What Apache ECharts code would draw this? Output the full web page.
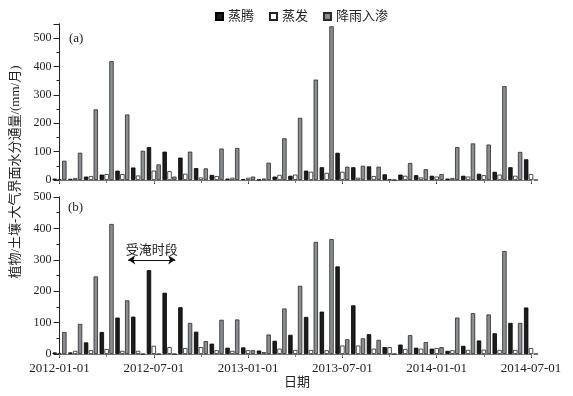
<!DOCTYPE html>
<html>
<head>
<meta charset="utf-8">
<script src="https://cdn.jsdelivr.net/npm/echarts@6/dist/echarts.min.js"></script>
<style>html,body{margin:0;padding:0;background:#fff}#c{width:573px;height:396px}</style>
</head>
<body>
<div id="c"></div>
<script>
// months 2012-01 .. 2014-07 (index 0..30), bars centred on the 1st of each month
const months = ['2012-01','2012-02','2012-03','2012-04','2012-05','2012-06','2012-07','2012-08','2012-09','2012-10','2012-11','2012-12',
  '2013-01','2013-02','2013-03','2013-04','2013-05','2013-06','2013-07','2013-08','2013-09','2013-10','2013-11','2013-12',
  '2014-01','2014-02','2014-03','2014-04','2014-05','2014-06','2014-07'];
const tickLabels = ['2012-01-01','2012-07-01','2013-01-01','2013-07-01','2014-01-01','2014-07-01'];
const yTicksA = [0,100,200,300,400,500];

// panel (a)
const aTrans = [5,4,12,19,33,44,116,100,79,42,18,5, 3,1,12,15,33,45,96,45,48,20,19,17, 15,5,15,22,29,45,73];
const aEvap  = [3,7,14,21,21,16,33,31,22,9,14,8, 8,5,18,19,29,25,29,8,14,2,15,9, 12,7,12,17,19,15,21];
const aRain  = [68,96,249,419,231,103,55,12,100,41,111,113, 12,61,147,219,354,542,47,50,47,0,60,38, 21,116,129,125,331,99,0];
// panel (b)
const bTrans = [5,5,37,70,116,119,267,195,149,71,33,20, 21,11,42,61,118,135,279,155,63,22,30,20, 17,10,26,43,66,99,148];
const bEvap  = [3,10,12,16,10,10,26,22,19,22,12,10, 12,6,17,13,13,12,27,27,17,22,16,17, 19,12,13,14,13,13,19];
const bRain  = [70,96,247,414,171,0,0,0,99,41,109,110, 12,62,145,217,357,366,47,50,45,0,60,38, 22,116,130,126,328,99,0];

const floodStart = 4.68, floodEnd = 7.67, floodLevel = 300;

const FONT = '"Liberation Serif","Times New Roman","Noto Sans CJK SC",serif';
const pairs = arr => arr.map((v,i)=>[i,v]);

const styles = {
  '蒸腾': {color:'#1c1c1c', borderColor:'#000', borderWidth:0.8},
  '蒸发': {color:'#ffffff', borderColor:'#222', borderWidth:0.8},
  '降雨入渗': {color:'#8a8e93', borderColor:'#2a2a2a', borderWidth:0.8}
};

function bar(name, data, xi, yi, extra) {
  return Object.assign({
    type:'bar', name, data: pairs(data), xAxisIndex: xi, yAxisIndex: yi,
    barWidth: 4.4, barGap: '10%', itemStyle: styles[name], clip: true,
    animation:false, emphasis:{disabled:true}
  }, extra||{});
}

function xBottom(gi, labels) {
  return {type:'value', gridIndex: gi, min:0, max:30, interval:6, position:'bottom',
    axisLine:{show:true, lineStyle:{color:'#222', width:1}},
    axisTick:{show:true, inside:false, length:4, lineStyle:{color:'#222'}},
    axisLabel:{show:labels, margin:8, fontFamily:FONT, fontSize:13, color:'#222',
      formatter: v => tickLabels[Math.round(v/6)] || ''},
    splitLine:{show:false}};
}
function xTop(gi) {
  return {type:'value', gridIndex: gi, min:0, max:30, interval:3, position:'top',
    axisLine:{show:true, lineStyle:{color:'#777', width:1}},
    axisTick:{show:true, inside:true, length:3, lineStyle:{color:'#777'}},
    axisLabel:{show:false}, splitLine:{show:false}};
}
function yLeft(gi, max) {
  return {type:'value', gridIndex: gi, min:0, max:max, interval:100, position:'left',
    axisLine:{show:true, lineStyle:{color:'#222', width:1}},
    axisTick:{show:true, inside:false, length:6, lineStyle:{color:'#222'}},
    axisLabel:{show:true, margin:8, fontFamily:FONT, fontSize:12, color:'#222',
      formatter: v => yTicksA.indexOf(v) >= 0 ? String(v) : ''},
    splitLine:{show:false}};
}
function yRight(gi, max) {
  return {type:'value', gridIndex: gi, min:0, max:max, interval:50, position:'right',
    axisLine:{show:true, lineStyle:{color:'#222', width:1}},
    axisTick:{show:true, inside:true, length:3, lineStyle:{color:'#222'}},
    axisLabel:{show:false}, splitLine:{show:false}};
}

const chart = echarts.init(document.getElementById('c'), null, {renderer:'canvas'});
chart.setOption({
  animation:false,
  backgroundColor:'#fff',
  legend:{
    data:['蒸腾','蒸发','降雨入渗'], left:210, top:5, icon:'rect',
    itemWidth:7, itemHeight:7, itemGap:15,
    textStyle:{fontFamily:FONT, fontSize:13, color:'#222'}
  },
  grid:[
    {left:59.5, right:42, top:24, height:156, show:false},
    {left:59.5, right:42, top:197, height:157, show:false}
  ],
  xAxis:[xBottom(0,false), xTop(0), xBottom(1,true), xTop(1)],
  yAxis:[yLeft(0,550), yRight(0,550), yLeft(1,500), yRight(1,500)],
  series:[
    bar('蒸腾', aTrans, 0, 0),
    bar('蒸发', aEvap, 0, 0),
    bar('降雨入渗', aRain, 0, 0),
    bar('蒸腾', bTrans, 2, 2, {
      markLine:{
        silent:true, symbol:['arrow','arrow'], symbolSize:[7,7],
        lineStyle:{color:'#111', width:1, type:'solid'},
        label:{show:true, position:'middle', formatter:'受淹时段', distance:3,
          fontFamily:FONT, fontSize:13, color:'#222'},
        data:[[{coord:[floodStart, floodLevel]},{coord:[floodEnd, floodLevel]}]]
      }
    }),
    bar('蒸发', bEvap, 2, 2),
    bar('降雨入渗', bRain, 2, 2)
  ],
  graphic:[
    {type:'text', left:69, top:32, style:{text:'(a)', font:'13px '+FONT, fill:'#222'}},
    {type:'text', left:68, top:201, style:{text:'(b)', font:'13px '+FONT, fill:'#222'}},
    {type:'text', x:16, y:172, rotation:Math.PI/2,
      style:{text:'植物/土壤-大气界面水分通量/(mm/月)', font:'13px '+FONT, fill:'#222',
        align:'center', verticalAlign:'middle'}},
    {type:'text', x:297, y:383,
      style:{text:'日期', font:'13px '+FONT, fill:'#222', align:'center', verticalAlign:'middle'}}
  ]
});
</script>
</body>
</html>
